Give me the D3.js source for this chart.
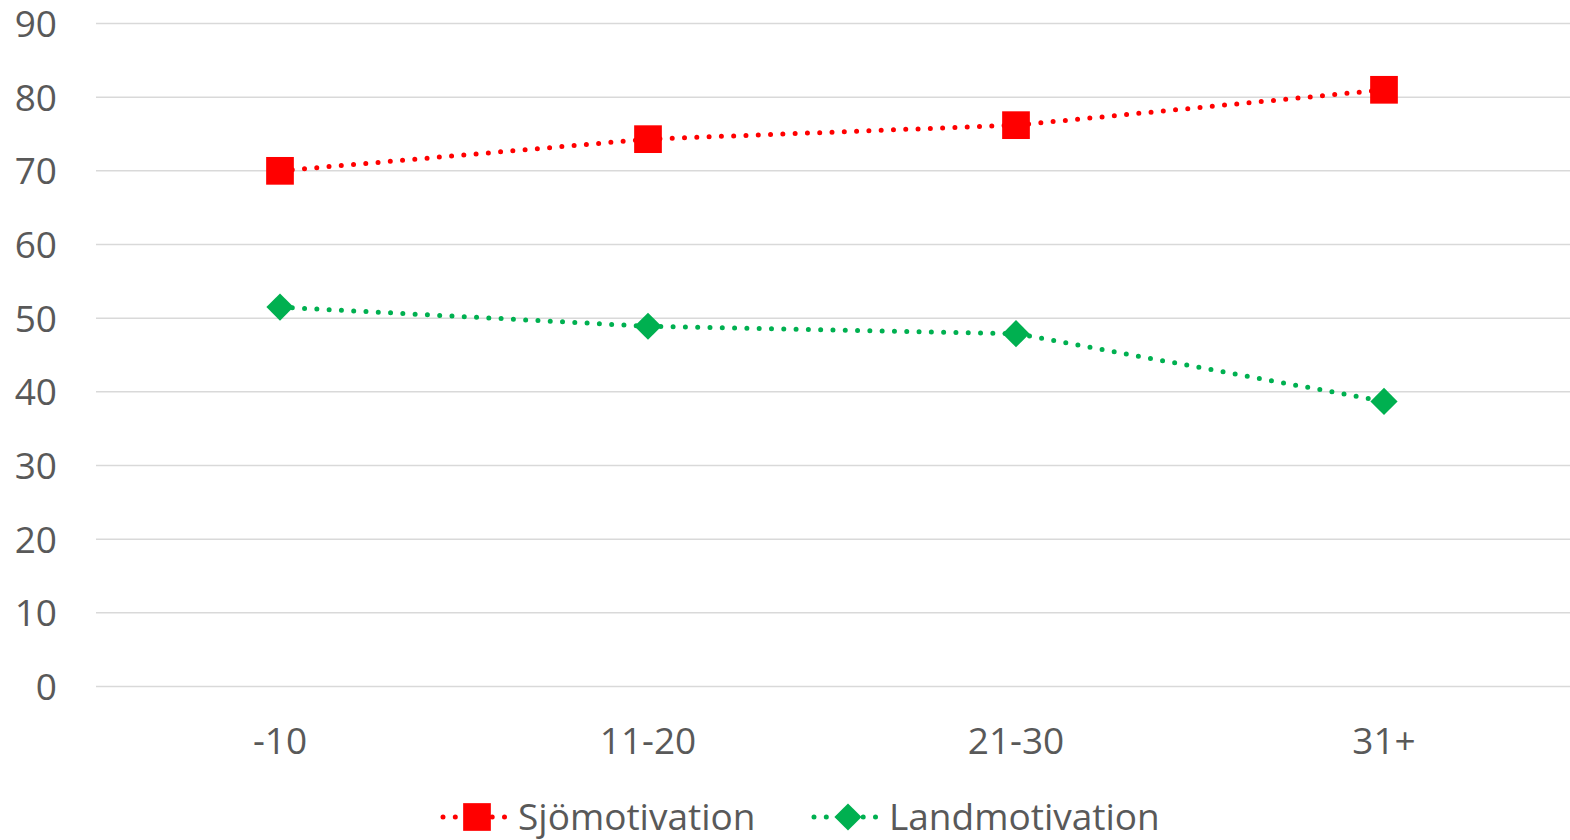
<!DOCTYPE html>
<html><head><meta charset="utf-8">
<script src="https://cdn.jsdelivr.net/npm/d3@7"></script>
<style>html,body{margin:0;padding:0;background:#fff;overflow:hidden}</style>
</head><body>
<svg id="c" width="1570" height="840"></svg>
<script>
const categories = ["-10", "11-20", "21-30", "31+"];
const sjoValues = [70.0, 74.3, 76.2, 81.0];
const landValues = [51.5, 48.9, 47.9, 38.7];
const yTicks = [0, 10, 20, 30, 40, 50, 60, 70, 80, 90];
const seriesNames = ["Sjömotivation", "Landmotivation"];

const svg = d3.select("#c");
const font = "'Open Sans', sans-serif";
const fs = 37;
const textColor = "#595959";
const x = d3.scaleBand().domain(categories).range([96, 1568]).paddingInner(0).paddingOuter(0);
const y = d3.scaleLinear().domain([0, 90]).range([686.5, 23.5]);
const cx = d => x(d) + x.bandwidth() / 2;

// gridlines
svg.append("g").selectAll("line").data(yTicks).join("line")
  .attr("x1", 96).attr("x2", 1570)
  .attr("y1", d => y(d)).attr("y2", d => y(d))
  .attr("stroke", "#d9d9d9").attr("stroke-width", 1.5);

// y axis labels
const yAxis = d3.axisLeft(y).tickValues(yTicks).tickSize(0).tickPadding(0);
const gy = svg.append("g").attr("transform", "translate(57,0)").call(yAxis);
gy.select(".domain").remove();
gy.selectAll("text").attr("font-family", font).attr("font-size", fs).attr("fill", textColor).attr("dy", "0.35em");

// x axis labels
const xAxis = d3.axisBottom(x).tickSize(0).tickPadding(0);
const gx = svg.append("g").attr("transform", "translate(0,741)").call(xAxis);
gx.select(".domain").remove();
gx.selectAll("text").attr("font-family", font).attr("font-size", fs).attr("fill", textColor).attr("dy", "0.35em");

const series = [
  {name: seriesNames[0], values: sjoValues, color: "#ff0000", marker: "square"},
  {name: seriesNames[1], values: landValues, color: "#00b050", marker: "diamond"}
];
const line = d3.line().x((d, i) => cx(categories[i])).y(d => y(d));
const sq = 27.7, dia = 13.6;
function drawMarker(g, type, color, px, py) {
  if (type === "square") {
    g.append("rect").attr("x", px - sq/2).attr("y", py - sq/2).attr("width", sq).attr("height", sq).attr("fill", color);
  } else {
    g.append("path").attr("d", `M${px},${py-dia}L${px+dia},${py}L${px},${py+dia}L${px-dia},${py}Z`).attr("fill", color);
  }
}
series.forEach(s => {
  svg.append("path").datum(s.values).attr("d", line).attr("fill", "none")
    .attr("stroke", s.color).attr("stroke-width", 5).attr("stroke-linecap", "round")
    .attr("stroke-dasharray", "0 12.3");
  const g = svg.append("g");
  s.values.forEach((v, i) => drawMarker(g, s.marker, s.color, cx(categories[i]), y(v)));
});

// legend
const legendX = [477, 848];
series.forEach((s, i) => {
  const g = svg.append("g");
  const lx = legendX[i], ly = 817;
  g.append("line").attr("x1", lx - 34).attr("x2", lx + 34).attr("y1", ly).attr("y2", ly)
    .attr("stroke", s.color).attr("stroke-width", 5).attr("stroke-linecap", "round")
    .attr("stroke-dasharray", "0 12.3");
  drawMarker(g, s.marker, s.color, lx, ly);
  g.append("text").attr("x", lx + 41).attr("y", ly).attr("dy", "0.35em")
    .attr("font-family", font).attr("font-size", fs).attr("fill", textColor).text(s.name);
});
</script>
</body></html>
